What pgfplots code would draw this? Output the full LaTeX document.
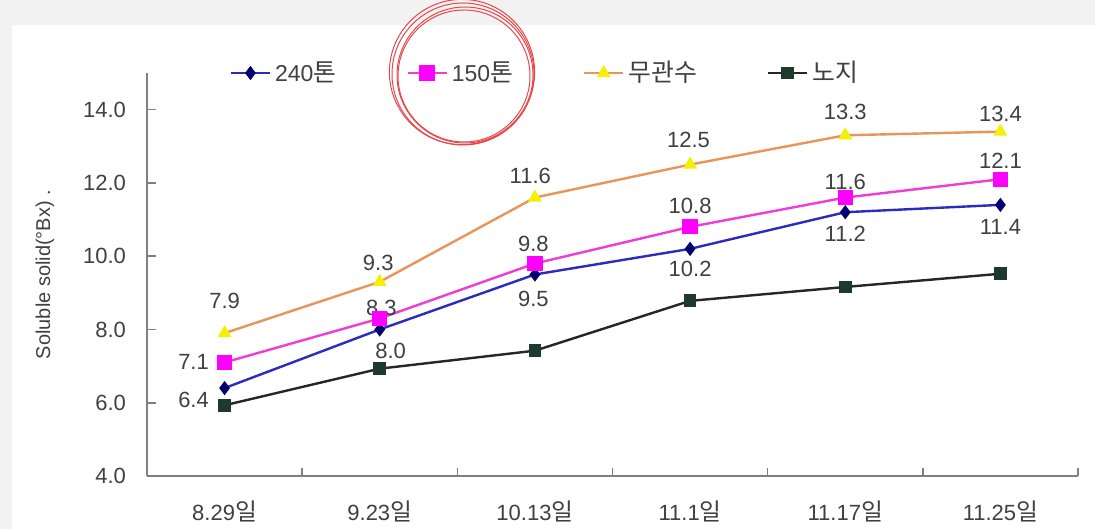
\documentclass[border=0pt]{standalone}
\usepackage{pgfplots}
\pgfplotsset{compat=1.18}
\usepackage{fontspec}
\setmainfont{Liberation Sans}
\newfontfamily\kr[Scale=1.08]{Noto Sans CJK KR}
\definecolor{bgray}{HTML}{F2F2F2}
\definecolor{txt}{HTML}{404040}
\definecolor{navyl}{HTML}{2B2BC0}
\definecolor{navym}{HTML}{000070}
\definecolor{magl}{HTML}{F03CD2}
\definecolor{magm}{HTML}{FF00FF}
\definecolor{orl}{HTML}{E8955A}
\definecolor{yelm}{HTML}{F5F000}
\definecolor{dkl}{HTML}{262626}
\definecolor{dkm}{HTML}{1E3A2C}
\definecolor{axc}{HTML}{808080}
\definecolor{circ}{HTML}{E8484C}
\begin{document}
\begin{tikzpicture}
\useasboundingbox (-73.5pt,-26.5pt) rectangle (474pt,238pt);
\fill[bgray] (-73.5pt,-26.5pt) rectangle (474pt,238pt);
\fill[white] (-67.5pt,-26.5pt) rectangle (474pt,225.5pt);
\begin{axis}[at={(0,0)}, anchor=south west, scale only axis,
  width=465.5pt, height=201.5pt,
  xmin=-0.5, xmax=5.5, ymin=4, ymax=15,
  axis x line*=bottom, axis y line*=left,
  axis line style={axc, line width=1pt},
  tick align=inside,
  xtick={0,...,5},
  xticklabels={8.29\kr{일},9.23\kr{일},10.13\kr{일},11.1\kr{일},11.17\kr{일},11.25\kr{일}},
  minor xtick={0.5,1.5,2.5,3.5,4.5,5.5},
  x tick style={draw=none},
  minor x tick style={draw=axc, line width=0.8pt},
  minor tick length=4pt,
  ytick={4,6,...,14},
  y tick style={draw=axc, line width=0.8pt},
  major tick length=4.5pt,
  /pgf/number format/fixed, /pgf/number format/fixed zerofill, /pgf/number format/precision=1,
  /pgf/number format/assume math mode=true,
  yticklabel style={xshift=-7pt, font=\fontsize{11}{12}\selectfont, text=txt},
  xticklabel style={yshift=-9pt, font=\fontsize{11}{12}\selectfont, text=txt},
  ylabel={Soluble solid(°Bx) .},
  ylabel style={at={(axis description cs:-0.1096,0.5)}, anchor=center, font=\fontsize{10}{12}\selectfont, text=txt},
  legend columns=4,
  legend style={at={(axis description cs:0.082,1.0)}, anchor=west, draw=none, fill=none,
    font=\fontsize{11.5}{12}\selectfont, text=txt,
    /tikz/every even column/.append style={column sep=33pt}},
  legend image code/.code={\draw[mark repeat=2,mark phase=2] plot coordinates {(0pt,0pt)(9.75pt,0pt)(19.5pt,0pt)};},
]
\addplot[navyl, line width=1.2pt, mark=diamond*, mark size=2.6pt, mark options={fill=navym, draw=navym}]
  coordinates {(0,6.4)(1,8.0)(2,9.5)(3,10.2)(4,11.2)(5,11.4)};
\addlegendentry{240\kr{톤}}
\addplot[magl, line width=1.2pt, mark=square*, mark size=3.2pt, mark options={fill=magm, draw=magm}]
  coordinates {(0,7.1)(1,8.3)(2,9.8)(3,10.8)(4,11.6)(5,12.1)};
\addlegendentry{150\kr{톤}}
\addplot[orl, line width=1.2pt, mark=triangle*, mark size=2.8pt, mark options={fill=yelm, draw=yelm}]
  coordinates {(0,7.9)(1,9.3)(2,11.6)(3,12.5)(4,13.3)(5,13.4)};
\addlegendentry{\kr{무관수}}
\addplot[dkl, line width=1.2pt, mark=square*, mark size=2.6pt, mark options={fill=dkm, draw=dkm, rounded corners=1.5pt}]
  coordinates {(0,5.93)(1,6.93)(2,7.42)(3,8.78)(4,9.16)(5,9.52)};
\addlegendentry{\kr{노지}}
\begin{scope}[every node/.style={font=\fontsize{11}{12}\selectfont, text=txt, inner sep=0pt}]
\node at (axis cs:0,8.78) {7.9};
\node at (axis cs:-0.2,7.10) {7.1};
\node at (axis cs:-0.2,6.07) {6.4};
\node at (axis cs:0.99,9.82) {9.3};
\node at (axis cs:1.01,8.59) {8.3};
\node at (axis cs:1.07,7.42) {8.0};
\node at (axis cs:1.97,12.18) {11.6};
\node at (axis cs:1.99,10.33) {9.8};
\node at (axis cs:1.99,8.84) {9.5};
\node at (axis cs:2.99,13.18) {12.5};
\node at (axis cs:3.0,11.36) {10.8};
\node at (axis cs:3.0,9.65) {10.2};
\node at (axis cs:4.0,13.95) {13.3};
\node at (axis cs:4.0,12.04) {11.6};
\node at (axis cs:4.0,10.60) {11.2};
\node at (axis cs:5.0,13.89) {13.4};
\node at (axis cs:5.0,12.59) {12.1};
\node at (axis cs:5.0,10.79) {11.4};
\end{scope}
\end{axis}
\draw[circ, line width=0.5pt] (158pt,201pt) circle (35.5pt);
\draw[circ, line width=0.5pt] (159pt,200.5pt) circle (34pt);
\draw[circ, line width=0.5pt] (157.5pt,202pt) circle (36.3pt);
\draw[circ, line width=0.5pt] (158.5pt,200pt) circle (33pt);
\end{tikzpicture}
\end{document}
